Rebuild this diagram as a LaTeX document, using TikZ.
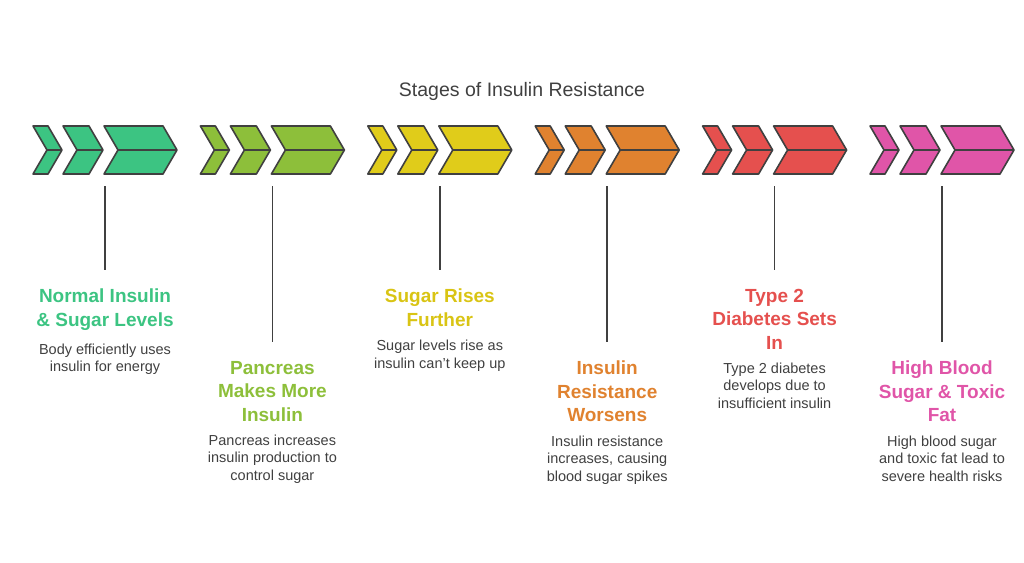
\documentclass[tikz,border=0pt]{standalone}
\usepackage{fontspec}
\setmainfont{Liberation Sans}
\usetikzlibrary{positioning}

\definecolor{cgreen}{HTML}{3CC482}
\definecolor{clime}{HTML}{8DBF3A}
\definecolor{cyellow}{HTML}{E0CC1A}
\definecolor{corange}{HTML}{E0822F}
\definecolor{cred}{HTML}{E5504E}
\definecolor{cpink}{HTML}{E055A8}
\definecolor{tgreen}{HTML}{3CC482}
\definecolor{tlime}{HTML}{8DBF3A}
\definecolor{tyellow}{HTML}{D9C414}
\definecolor{torange}{HTML}{E0822F}
\definecolor{tred}{HTML}{E5504E}
\definecolor{tpink}{HTML}{E055A8}

\tikzset{
  chevron/.style={draw=black!75, line width=1.6pt, line join=round},
  stem/.style={draw=black!75, line width=1.5pt},
  heading/.style={anchor=north, inner sep=0pt, align=center, font=\fontsize{19}{23.5}\selectfont\bfseries},
  bodytext/.style={below=13pt of #1, inner sep=0pt, align=center, text=black!75, font=\fontsize{14.5}{17.5}\selectfont}
}

% one chevron: left x, right x, colour
\newcommand\chev[3]{%
  \draw[chevron, fill=#3] (#1,126) -- (#2,126) -- (#2+14,150) -- (#2,174) -- (#1,174) -- (#1+14,150) -- cycle;
  \draw[chevron] (#1+14,150) -- (#2+14,150);
}

\begin{document}
\begin{tikzpicture}[x=1pt, y=-1pt]
  \useasboundingbox (0,0) rectangle (1024,562);
  \node[text=black!75, font=\fontsize{19.5}{22}\selectfont] (title) at (522,91) {Stages of Insulin Resistance};

  \foreach \i/\c/\t/\hy/\head/\body in {
      0/cgreen/tgreen/289/{Normal Insulin\\\& Sugar Levels}/{Body efficiently uses\\insulin for energy},
      1/clime/tlime/361/{Pancreas\\Makes More\\Insulin}/{Pancreas increases\\insulin production to\\control sugar},
      2/cyellow/tyellow/289/{Sugar Rises\\Further}/{Sugar levels rise as\\insulin can't keep up},
      3/corange/torange/361/{Insulin\\Resistance\\Worsens}/{Insulin resistance\\increases, causing\\blood sugar spikes},
      4/cred/tred/289/{Type 2\\Diabetes Sets\\In}/{Type 2 diabetes\\develops due to\\insufficient insulin},
      5/cpink/tpink/361/{High Blood\\Sugar \& Toxic\\Fat}/{High blood sugar\\and toxic fat lead to\\severe health risks}} {
    \pgfmathsetmacro\ox{167.4*\i}
    \chev{33+\ox}{48+\ox}{\c}
    \chev{63+\ox}{89+\ox}{\c}
    \chev{104+\ox}{163+\ox}{\c}
    \coordinate (top\i) at (105+\ox,186);
    \node[heading, text=\t] (head\i) at (105+\ox,\hy) {\head};
    \node[bodytext=head\i] (body\i) {\body};
    \draw[stem] (top\i) -- ([yshift=19pt]head\i.north);
  }
\end{tikzpicture}
\end{document}
